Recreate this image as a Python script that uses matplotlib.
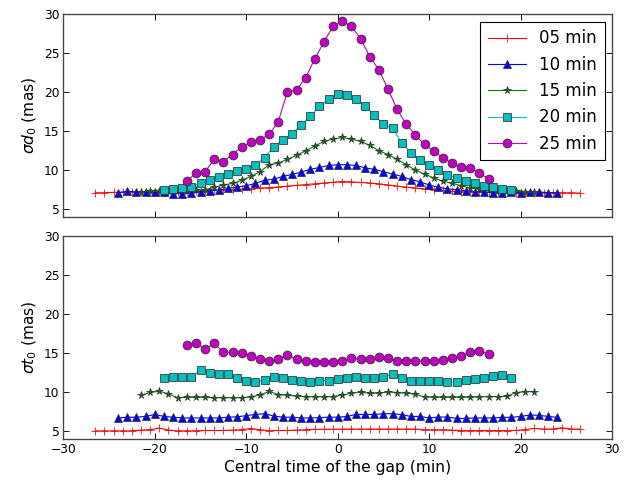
import numpy as np
import matplotlib
matplotlib.use('Agg')
import matplotlib.pyplot as plt

# time grids (central time of the gap, min)
t05 = np.arange(-26.5, 26.6, 1.0)
t10 = np.arange(-24.0, 24.1, 1.0)
t15 = np.arange(-21.5, 21.6, 1.0)
t20 = np.arange(-19.0, 19.1, 1.0)
t25 = np.arange(-16.5, 16.6, 1.0)

# sigma d0 (mas)
d05 = [7.1, 7.1, 7.15, 7.15, 7.2, 7.2, 7.2, 7.2, 7.25, 7.25, 7.3, 7.3, 7.35, 7.4,
       7.45, 7.5, 7.55, 7.6, 7.7, 7.75, 7.85, 7.95, 8.05, 8.15, 8.25, 8.35, 8.45,
       8.54, 8.5, 8.42, 8.35, 8.25, 8.1, 7.95, 7.82, 7.7, 7.6, 7.47, 7.4, 7.3,
       7.25, 7.2, 7.2, 7.15, 7.15, 7.15, 7.1, 7.1, 7.1, 7.1, 7.1, 7.1, 7.1, 7.05]
d10 = [7.1, 7.3, 7.2, 7.2, 7.2, 7.2, 7.0, 7.0, 7.1, 7.2, 7.35, 7.45, 7.65, 7.85,
       8.0, 8.3, 8.7, 8.85, 9.2, 9.45, 9.75, 10.1, 10.35, 10.6, 10.7, 10.7, 10.6,
       10.3, 10.1, 9.8, 9.5, 9.2, 8.8, 8.5, 8.1, 7.8, 7.6, 7.5, 7.35, 7.25, 7.2,
       7.1, 7.1, 7.15, 7.1, 7.2, 7.2, 7.1, 7.1]
d15 = [7.2, 7.3, 7.3, 7.3, 7.3, 7.3, 7.4, 7.5, 7.8, 8.1, 8.3, 8.7, 9.2, 9.8,
       10.7, 10.9, 11.4, 11.9, 12.5, 13.1, 13.7, 14.0, 14.2, 14.0, 13.7, 13.2,
       12.5, 12.0, 11.4, 10.7, 10.0, 9.5, 9.0, 8.6, 8.3, 8.0, 7.7, 7.6, 7.4, 7.3,
       7.3, 7.3, 7.2, 7.2]
d20 = [7.5, 7.6, 7.7, 7.9, 8.3, 8.7, 9.1, 9.5, 9.9, 10.2, 10.7, 11.6, 13.0, 13.9,
       14.7, 15.8, 16.9, 18.2, 19.1, 19.8, 19.7, 19.2, 18.2, 17.1, 15.9, 15.4,
       13.5, 12.2, 11.3, 10.6, 10.0, 9.4, 9.0, 8.6, 8.3, 8.0, 7.8, 7.6, 7.4]
d25 = [8.6, 9.6, 9.8, 11.4, 11.1, 12.0, 13.0, 13.6, 13.9, 14.6, 16.2, 20.1, 20.3,
       21.9, 24.3, 26.5, 28.5, 29.1, 28.5, 26.9, 24.6, 22.9, 20.4, 17.8, 15.9,
       14.5, 13.3, 12.4, 11.6, 10.9, 10.4, 10.3, 9.6, 8.9]

# sigma t0 (mas)
s05 = [5.05, 5.05, 5.05, 5.05, 5.05, 5.15, 5.2, 5.4, 5.15, 5.05, 5.05, 5.05, 5.1,
       5.1, 5.1, 5.15, 5.2, 5.35, 5.2, 5.05, 5.1, 5.1, 5.15, 5.2, 5.25, 5.25,
       5.25, 5.28, 5.28, 5.28, 5.28, 5.28, 5.28, 5.28, 5.28, 5.28, 5.19, 5.19,
       5.19, 5.15, 5.08, 5.08, 5.08, 5.08, 5.08, 5.08, 5.1, 5.22, 5.36, 5.28,
       5.28, 5.45, 5.28, 5.28]
s10 = [6.7, 6.8, 6.8, 6.9, 7.15, 6.9, 6.8, 6.7, 6.7, 6.7, 6.7, 6.7, 6.8, 6.85,
       7.0, 7.15, 7.25, 6.95, 6.8, 6.8, 6.7, 6.7, 6.75, 6.8, 6.8, 6.9, 7.15, 7.15,
       7.15, 7.25, 7.25, 7.12, 6.9, 6.9, 6.7, 6.82, 6.82, 6.65, 6.65, 6.7, 6.7,
       6.7, 6.78, 6.78, 6.9, 7.08, 7.04, 6.9, 6.78]
s15 = [9.6, 10.0, 10.1, 9.8, 9.3, 9.35, 9.35, 9.35, 9.3, 9.3, 9.3, 9.3, 9.4, 9.65,
       10.1, 9.7, 9.6, 9.5, 9.45, 9.4, 9.4, 9.45, 9.65, 9.87, 10.0, 9.87, 9.87,
       10.04, 9.96, 9.87, 9.74, 9.39, 9.35, 9.35, 9.35, 9.35, 9.35, 9.39, 9.44,
       9.44, 9.48, 9.96, 10.08, 10.08]
s20 = [11.8, 11.9, 12.0, 12.0, 12.8, 12.5, 12.4, 12.3, 11.8, 11.4, 11.3, 11.6,
       11.9, 11.8, 11.6, 11.4, 11.3, 11.5, 11.5, 11.75, 11.85, 11.89, 11.8, 11.8,
       11.93, 12.36, 11.85, 11.4, 11.4, 11.4, 11.4, 11.28, 11.28, 11.54, 11.67,
       11.85, 12.1, 12.18, 11.85]
s25 = [16.1, 16.3, 15.5, 16.3, 15.1, 15.1, 15.0, 14.7, 14.2, 14.0, 14.2, 14.8,
       14.2, 14.0, 13.9, 13.9, 13.9, 14.0, 14.4, 14.24, 14.24, 14.46, 14.42,
       13.98, 13.98, 13.98, 13.98, 13.98, 14.16, 14.33, 14.6, 15.2, 15.3, 14.93]

labels = ['05 min', '10 min', '15 min', '20 min', '25 min']
times = [t05, t10, t15, t20, t25]
top_vals = [d05, d10, d15, d20, d25]
bot_vals = [s05, s10, s15, s20, s25]
styles = [('r', '+', 8), ('b', '^', 7), ('g', '*', 7), ('c', 's', 7), ('m', 'o', 8)]

plt.rcParams['font.size'] = 12
plt.rcParams['xtick.direction'] = 'in'
plt.rcParams['ytick.direction'] = 'in'
plt.rcParams['xtick.top'] = True
plt.rcParams['ytick.right'] = True
plt.rcParams['xtick.major.size'] = 5
plt.rcParams['ytick.major.size'] = 5

fig = plt.figure(figsize=(633/80., 483/80.), dpi=80)
ax1 = fig.add_axes([0.100, 0.551, 0.867, 0.419])
ax2 = fig.add_axes([0.100, 0.091, 0.867, 0.420])

for t, v, (c, m, ms), lab in zip(times, top_vals, styles, labels):
    mec = c if m == '+' else '#333333'
    ax1.plot(t, v, color=c, marker=m, ms=ms, mec=mec, mew=0.7, lw=1.0, label=lab)
for t, v, (c, m, ms) in zip(times, bot_vals, styles):
    mec = c if m == '+' else '#333333'
    ax2.plot(t, v, color=c, marker=m, ms=ms, mec=mec, mew=0.7, lw=1.0)

for ax in (ax1, ax2):
    ax.set_xlim(-30, 30)
    ax.set_ylim(4, 30)
    ax.set_yticks([5, 10, 15, 20, 25, 30])
    ax.set_xticks([-30, -20, -10, 0, 10, 20, 30])
    ax.tick_params(labelsize=11)
    for sp in ax.spines.values():
        sp.set_color('#444444')
        sp.set_linewidth(1.2)

ax1.set_xticklabels([])
ax1.set_ylabel(r'$\sigma d_0$ (mas)', fontsize=14)
ax2.set_ylabel(r'$\sigma t_0$ (mas)', fontsize=14)
ax2.set_xlabel('Central time of the gap (min)', fontsize=14)

leg = ax1.legend(loc='upper right', numpoints=1, fontsize=15, fancybox=False,
                 framealpha=1, handlelength=2.3, handletextpad=0.8,
                 borderpad=0.45, labelspacing=0.5, borderaxespad=0.45)
leg.get_frame().set_edgecolor('black')

fig.savefig('out.png', dpi=80)
